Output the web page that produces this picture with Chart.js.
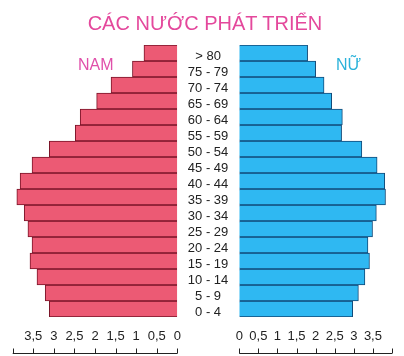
<!DOCTYPE html>
<html>
<head>
<meta charset="utf-8">
<script src="https://cdn.jsdelivr.net/npm/chart.js@4.4.1/dist/chart.umd.min.js"></script>
<style>
  body { margin: 0; background: #fff; }
  #wrap { position: relative; width: 404px; height: 356px; overflow: hidden; font-family: "Liberation Sans", Arial, sans-serif; }
  canvas { position: absolute; left: 0; top: 0; }
  .lbl { position: absolute; white-space: nowrap; }
  #title { left: 0; width: 410px; text-align: center; top: 13px; font-size: 20px; line-height: 20px; color: #e4489c; }
  #nam { left: 78px; top: 57px; font-size: 16px; line-height: 16px; color: #e050aa; }
  #nu { left: 336px; top: 57px; font-size: 16px; line-height: 16px; color: #2ab2da; }
</style>
</head>
<body>
<div id="wrap">
  <canvas id="male-canvas" width="404" height="356"></canvas>
  <canvas id="female-canvas" width="404" height="356"></canvas>
  <div class="lbl" id="title">CÁC NƯỚC PHÁT TRIỂN</div>
  <div class="lbl" id="nam">NAM</div>
  <div class="lbl" id="nu">NỮ</div>
</div>
<script>
document.addEventListener('DOMContentLoaded', function() {

// nhom tuoi, tu duoi len tren
var ageGroups = ['0 - 4', '5 - 9', '10 - 14', '15 - 19', '20 - 24', '25 - 29', '30 - 34', '35 - 39',
    '40 - 44', '45 - 49', '50 - 54', '55 - 59', '60 - 64', '65 - 69', '70 - 74', '75 - 79', '> 80'];

// % dan so
var maleValues = [3.11, 3.21, 3.41, 3.58, 3.53, 3.63, 3.72, 3.90, 3.82, 3.53, 3.11, 2.48, 2.36, 1.96, 1.61, 1.09, 0.81];
var femaleValues = [2.97, 3.12, 3.29, 3.41, 3.37, 3.49, 3.59, 3.83, 3.81, 3.61, 3.21, 2.68, 2.70, 2.42, 2.22, 2.00, 1.79];

// nhan truc x cho 0, 0.5, ... 4
var tickLabels = ['0', '0,5', '1', '1,5', '2', '2,5', '3', '3,5', ''];

var textColor = '#222';
var fontSpec = { family: '"Liberation Sans", Arial, sans-serif', size: 13 };

// thuoc do o day: vach + duong ngang
var rulerPlugin = {
    id: 'ruler',
    afterDraw: function(chart) {
        var s = chart.scales.x;
        var ctx = chart.ctx;
        var y = 353.5;
        ctx.save();
        ctx.strokeStyle = '#222';
        ctx.lineWidth = 1;
        ctx.beginPath();
        ctx.moveTo(Math.min(s.left, s.right), y);
        ctx.lineTo(Math.max(s.left, s.right), y);
        for (var i = 0; i < s.ticks.length; i++) {
            var x = Math.round(s.getPixelForValue(s.ticks[i].value)) + 0.5;
            ctx.moveTo(x, y - 5);
            ctx.lineTo(x, y);
        }
        ctx.stroke();
        ctx.restore();
    }
};

function xAxis(reverse) {
    return {
        type: 'linear',
        min: 0,
        max: 4,
        reverse: reverse,
        grid: { display: false, drawTicks: false },
        border: { display: false },
        ticks: {
            stepSize: 0.5,
            autoSkip: false,
            maxRotation: 0,
            padding: 12,
            color: textColor,
            font: fontSpec,
            callback: function(value) { return tickLabels[Math.round(value * 2)]; }
        },
        afterFit: function(scale) { scale.height = 39; }
    };
}

var maleChart = new Chart(document.getElementById('male-canvas'), {
    type: 'bar',
    data: {
        labels: ageGroups,
        datasets: [{
            label: 'NAM',
            data: maleValues,
            backgroundColor: '#ec5a74',
            borderColor: '#7a1428',
            borderWidth: 1,
            barPercentage: 1,
            categoryPercentage: 1
        }]
    },
    options: {
        indexAxis: 'y',
        responsive: false,
        animation: false,
        layout: { padding: { left: 12.7, right: 226.7, top: 45, bottom: 0 } },
        scales: {
            x: xAxis(true),
            y: { display: false, reverse: true }
        },
        plugins: { legend: { display: false }, tooltip: { enabled: false } }
    },
    plugins: [rulerPlugin]
});

var femaleChart = new Chart(document.getElementById('female-canvas'), {
    type: 'bar',
    data: {
        labels: ageGroups,
        datasets: [{
            label: 'NỮ',
            data: femaleValues,
            backgroundColor: '#2fb8f2',
            borderColor: '#124a78',
            borderWidth: 1,
            barPercentage: 1,
            categoryPercentage: 1
        }]
    },
    options: {
        indexAxis: 'y',
        responsive: false,
        animation: false,
        layout: { padding: { left: 178, right: 0, top: 45, bottom: 0 } },
        scales: {
            x: xAxis(false),
            y: {
                reverse: true,
                grid: { display: false, drawTicks: false },
                border: { display: false },
                ticks: {
                    autoSkip: false,
                    crossAlign: 'center',
                    padding: 11,
                    labelOffset: 3,
                    color: textColor,
                    font: fontSpec
                },
                afterFit: function(scale) { scale.width = 61.3; }
            }
        },
        plugins: { legend: { display: false }, tooltip: { enabled: false } }
    },
    plugins: [rulerPlugin]
});

});
</script>
</body>
</html>
